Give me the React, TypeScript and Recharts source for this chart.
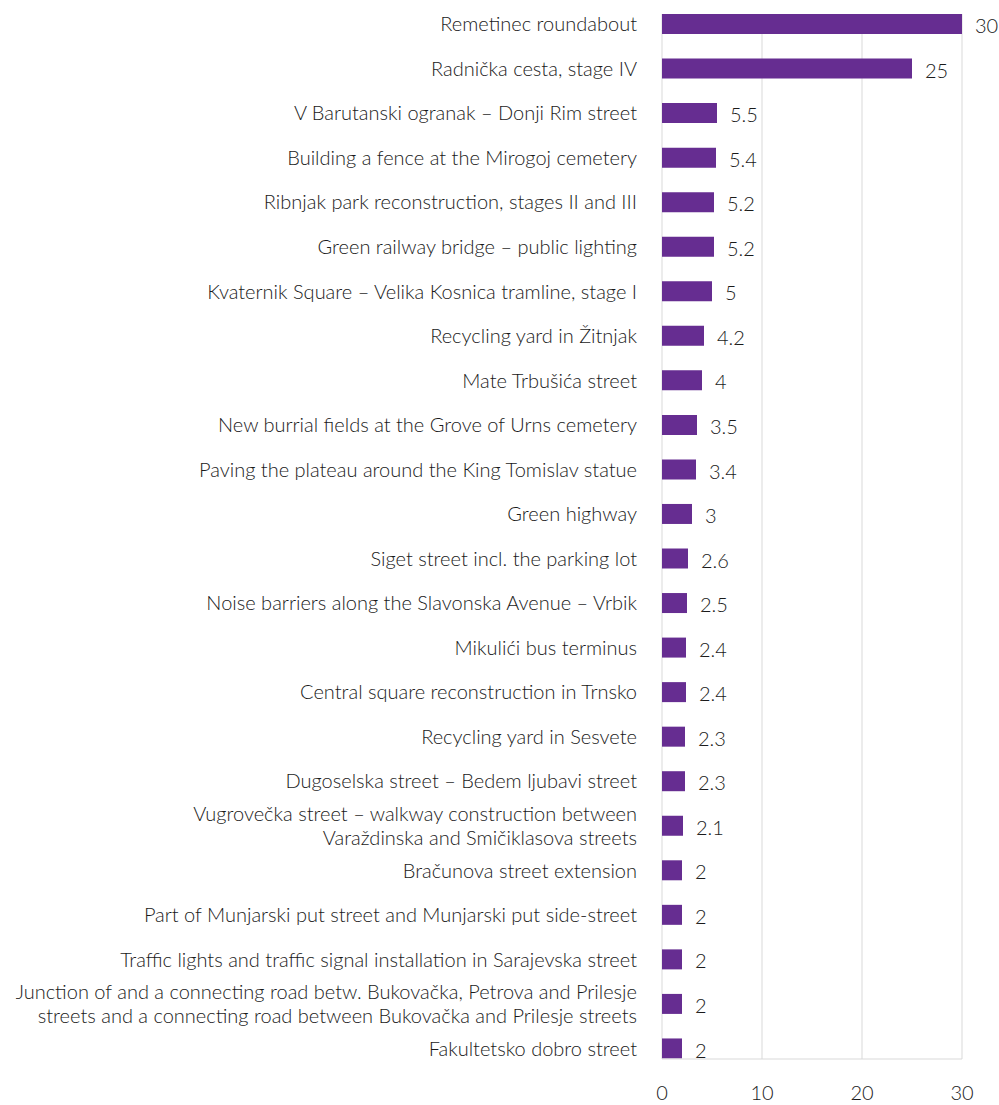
import { Bar, BarChart, CartesianGrid, LabelList, XAxis, YAxis } from "recharts";

const projects = [
  "Remetinec roundabout",
  "Radnička cesta, stage IV",
  "V Barutanski ogranak – Donji Rim street",
  "Building a fence at the Mirogoj cemetery",
  "Ribnjak park reconstruction, stages II and III",
  "Green railway bridge – public lighting",
  "Kvaternik Square – Velika Kosnica tramline,  stage I",
  "Recycling yard in Žitnjak",
  "Mate Trbušića street",
  "New burrial fields at the Grove of Urns cemetery",
  "Paving the plateau around the King Tomislav statue",
  "Green highway",
  "Siget street incl. the parking lot",
  "Noise barriers along the Slavonska Avenue – Vrbik",
  "Mikulići bus terminus",
  "Central square reconstruction in Trnsko",
  "Recycling yard in Sesvete",
  "Dugoselska street – Bedem ljubavi street",
  "Vugrovečka street – walkway construction between\nVaraždinska and Smičiklasova streets",
  "Bračunova street extension",
  "Part of Munjarski put street and Munjarski put side-street",
  "Traffic lights and traffic signal installation in Sarajevska street",
  "Junction of and a connecting road betw. Bukovačka, Petrova and Prilesje\nstreets and a connecting road between Bukovačka and Prilesje streets",
  "Fakultetsko dobro street",
];

const amounts = [30, 25, 5.5, 5.4, 5.2, 5.2, 5, 4.2, 4, 3.5, 3.4, 3, 2.6, 2.5, 2.4, 2.4, 2.3, 2.3, 2.1, 2, 2, 2, 2, 2];

const axisTicks = [0, 10, 20, 30];

const data = projects.map((name, i) => ({ name, value: amounts[i] }));

const FONT = "Lato, sans-serif";
const TEXT = "#1a1a1a";
const SIZE = 20;

function ProjectTick(props: any) {
  const { x, y, payload } = props;
  const lines = String(payload.value).split("\n");
  const lineHeight = 24.5;
  const start = -((lines.length - 1) * lineHeight) / 2;
  return (
    <text x={x} y={y} textAnchor="end" fill={TEXT} fontSize={SIZE} fontFamily={FONT} fontWeight={300}>
      {lines.map((line, i) => (
        <tspan key={i} x={x} y={y + start + i * lineHeight} dy="0.35em">
          {line}
        </tspan>
      ))}
    </text>
  );
}

export default function App() {
  return (
    <div style={{ position: "absolute", left: 0, top: 0, background: "#fff" }}>
      <BarChart
        width={999}
        height={1105}
        data={data}
        layout="vertical"
        margin={{ top: 14, right: 37, bottom: 6, left: 0 }}
      >
        <CartesianGrid horizontal={false} stroke="#d9d9d9" />
        <XAxis
          type="number"
          domain={[0, 30]}
          ticks={axisTicks}
          height={40}
          axisLine={{ stroke: "#d9d9d9" }}
          tickLine={false}
          tickMargin={21}
          tick={{ fontSize: SIZE, fill: TEXT, fontFamily: FONT, fontWeight: 300 }}
        />
        <YAxis
          type="category"
          dataKey="name"
          width={662}
          axisLine={false}
          tickLine={false}
          tickSize={0}
          tickMargin={25}
          interval={0}
          padding={{ top: -12, bottom: -12 }}
          tick={<ProjectTick />}
        />
        <Bar dataKey="value" fill="#662d91" barSize={20} isAnimationActive={false}>
          <LabelList
            dataKey="value"
            position="right"
            offset={13}
            dy={2}
            fill={TEXT}
            fontSize={SIZE}
            fontFamily={FONT}
            fontWeight={300}
          />
        </Bar>
      </BarChart>
    </div>
  );
}
